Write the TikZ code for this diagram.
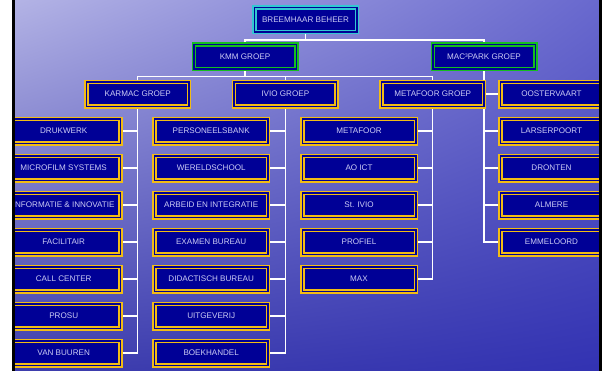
\documentclass[tikz,border=0pt]{standalone}
\usepackage{fontspec}
\setmainfont{Liberation Sans}
\usetikzlibrary{shadings}
\pgfdeclarelayer{bg}
\pgfdeclarelayer{lines}
\pgfsetlayers{bg,lines,main}
\definecolor{navy}{RGB}{0,0,150}
\definecolor{gold}{RGB}{242,188,20}
\definecolor{cyanb}{RGB}{50,200,210}
\definecolor{greenb}{RGB}{20,190,30}
\definecolor{txt}{RGB}{205,205,245}
\definecolor{bgul}{RGB}{182,182,230}
\definecolor{bgur}{RGB}{104,104,206}
\definecolor{bgll}{RGB}{62,62,172}
\definecolor{bglr}{RGB}{50,50,178}
\tikzset{
  box/.style={draw=gold, double=navy, double distance=1.5pt, line width=1.5pt,
    fill=navy, text=txt, font=\fontsize{8.1}{9}\selectfont,
    minimum height=24.5pt, inner sep=0pt, anchor=center},
  wbox/.style={box, minimum width=113.5pt},
  nbox/.style={box, minimum width=102.5pt},
  topbox/.style={nbox, draw=cyanb},
  grpbox/.style={nbox, draw=greenb},
  conn/.style={draw=white, line width=1.5pt},
}
\begin{document}
\begin{tikzpicture}[x=1pt,y=-1pt]
\useasboundingbox (0,0) rectangle (602,370);
\begin{pgfonlayer}{bg}
  \shade[upper left=bgul, upper right=bgur, lower left=bgll, lower right=bglr] (-2,-2) rectangle (604,372);
\end{pgfonlayer}

\node[topbox] (bb) at (305.5,19.5) {BREEMHAAR BEHEER};
\node[grpbox] (kmm) at (245,56.5) {KMM GROEP};
\node[grpbox] (mac) at (484,56.5) {MAC³PARK GROEP};
\node[nbox] (karmac) at (137.7,94) {KARMAC GROEP};
\node[nbox] (ivio) at (285.3,94) {IVIO GROEP};
\node[nbox] (meta) at (432.7,94) {METAFOOR GROEP};
\node[nbox] (oost) at (551.5,94) {OOSTERVAART};

\foreach \t [count=\i] in {DRUKWERK, MICROFILM SYSTEMS, {INFORMATIE \& INNOVATIE}, FACILITAIR, CALL CENTER, PROSU, VAN BUUREN}
  \node[wbox] (k\i) at (63.7,94+37*\i) {\t};
\foreach \t [count=\i] in {PERSONEELSBANK, WERELDSCHOOL, ARBEID EN INTEGRATIE, EXAMEN BUREAU, DIDACTISCH BUREAU, UITGEVERIJ, BOEKHANDEL}
  \node[wbox] (i\i) at (211.2,94+37*\i) {\t};
\foreach \t [count=\i] in {METAFOOR, AO ICT, St. IVIO, PROFIEL, MAX}
  \node[wbox] (f\i) at (359,94+37*\i) {\t};
\foreach \t [count=\i] in {LARSERPOORT, DRONTEN, ALMERE, EMMELOORD}
  \node[nbox] (m\i) at (551.5,94+37*\i) {\t};

\begin{pgfonlayer}{lines}
  \draw[conn] (bb.south) -- ++(0,7.25) coordinate (j1);
  \draw[conn] (kmm.north) |- (j1) -| (mac.north);
  \draw[conn] (kmm.south) -- ++(0,6.75) coordinate (j2);
  \draw[conn] (karmac.north) |- (j2) -| (meta.north);
  \draw[conn] (ivio.north) -- (ivio.north |- j2);
  \foreach \i in {1,...,7} \draw[conn] (karmac.south) |- (k\i.east);
  \foreach \i in {1,...,7} \draw[conn] (ivio.south) |- (i\i.east);
  \foreach \i in {1,...,5} \draw[conn] (meta.south) |- (f\i.east);
  \draw[conn] (mac.south) |- (oost.west);
  \foreach \i in {1,...,4} \draw[conn] (mac.south) |- (m\i.west);
\end{pgfonlayer}

\fill[white] (-2,-2) rectangle (12,372);
\fill[black] (12,-2) rectangle (15,372);
\fill[black] (599,-2) rectangle (604,372);
\end{tikzpicture}
\end{document}
